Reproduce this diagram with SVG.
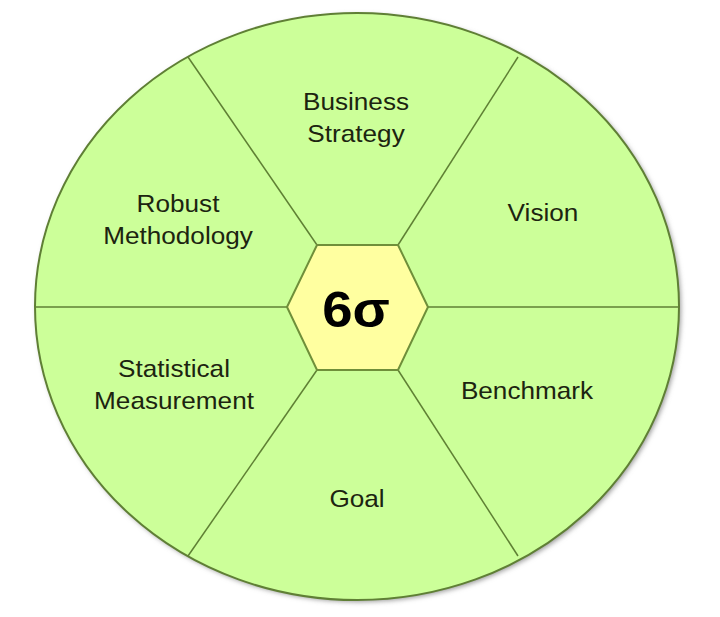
<svg xmlns="http://www.w3.org/2000/svg" width="720" height="617" viewBox="0 0 720 617">
  <defs>
    <filter id="shadow" x="-10%" y="-10%" width="120%" height="120%">
      <feGaussianBlur stdDeviation="2.5"/>
    </filter>
  </defs>
  <style>
    .lbl { font-family: "Liberation Sans", Arial, sans-serif; font-size: 24px; fill: #1c2410; text-anchor: middle; }
    .sig { font-family: "Liberation Sans", Arial, sans-serif; font-size: 50px; font-weight: bold; fill: #000; text-anchor: middle; }
    .div { stroke: #5f8034; stroke-width: 1.5; fill: none; }
  </style>
  <rect width="720" height="617" fill="#ffffff"/>
  <g id="wheel">
    <ellipse cx="359" cy="308.5" rx="322" ry="293.5" fill="#9a9a9a" filter="url(#shadow)"/>
    <ellipse cx="357" cy="306.5" rx="322" ry="293.5" fill="#ccff99" stroke="#5f7f35" stroke-width="2"/>
  </g>
  <g id="connectors">
    <line class="div" x1="35" y1="307" x2="287" y2="307"/>
    <line class="div" x1="428" y1="307" x2="679" y2="307"/>
    <line class="div" x1="317" y1="245" x2="188" y2="57"/>
    <line class="div" x1="398" y1="245" x2="518" y2="57"/>
    <line class="div" x1="317" y1="370" x2="188" y2="556"/>
    <line class="div" x1="398" y1="370" x2="518" y2="556"/>
  </g>
  <g id="center">
    <polygon points="287,307 317,245 398,245 428,307 398,370 317,370" fill="#ffffa0" stroke="#6f8f3a" stroke-width="2"/>
    <text class="sig" transform="translate(356,327) scale(1.09,1)">6σ</text>
  </g>
  <g id="business-strategy">
    <text class="lbl" transform="translate(356,110) scale(1.09,1)">Business</text>
    <text class="lbl" transform="translate(356,142) scale(1.09,1)">Strategy</text>
  </g>
  <g id="vision">
    <text class="lbl" transform="translate(543,221) scale(1.09,1)">Vision</text>
  </g>
  <g id="benchmark">
    <text class="lbl" transform="translate(527,399) scale(1.09,1)">Benchmark</text>
  </g>
  <g id="goal">
    <text class="lbl" transform="translate(357,507) scale(1.09,1)">Goal</text>
  </g>
  <g id="statistical-measurement">
    <text class="lbl" transform="translate(174,377) scale(1.09,1)">Statistical</text>
    <text class="lbl" transform="translate(174,409) scale(1.09,1)">Measurement</text>
  </g>
  <g id="robust-methodology">
    <text class="lbl" transform="translate(178,212) scale(1.09,1)">Robust</text>
    <text class="lbl" transform="translate(178,244) scale(1.09,1)">Methodology</text>
  </g>
</svg>
